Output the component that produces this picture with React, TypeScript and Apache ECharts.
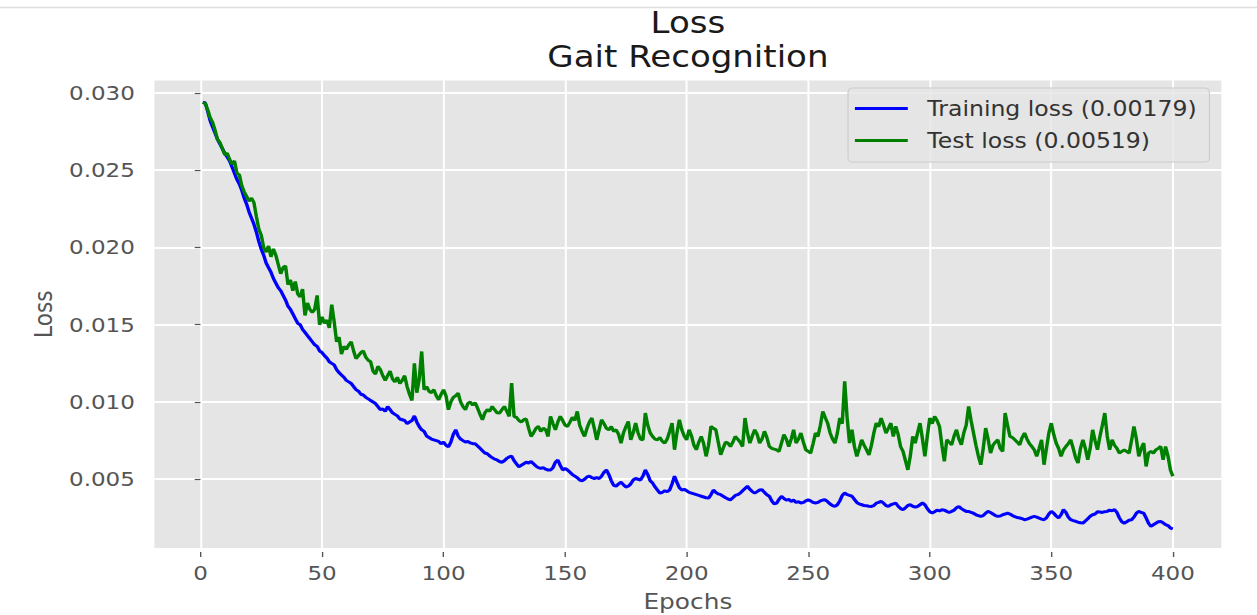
import React, { useEffect, useRef } from "react";
import * as echarts from "echarts";

// Training loss per epoch (epochs 1..400)
const trainingLoss: number[] = [
  0.02940, 0.02935, 0.02880, 0.02820, 0.02780, 0.02740, 0.02700, 0.02670, 0.02640, 0.02610,
  0.02585, 0.02560, 0.02520, 0.02480, 0.02440, 0.02410, 0.02370, 0.02320, 0.02280, 0.02230,
  0.02190, 0.02150, 0.02100, 0.02040, 0.01990, 0.01950, 0.01900, 0.01870, 0.01840, 0.01800,
  0.01770, 0.01740, 0.01720, 0.01690, 0.01660, 0.01620, 0.01600, 0.01570, 0.01540, 0.01510,
  0.01500, 0.01470, 0.01450, 0.01430, 0.01410, 0.01390, 0.01370, 0.01360, 0.01330, 0.01320,
  0.01300, 0.01285, 0.01260, 0.01250, 0.01240, 0.01210, 0.01190, 0.01175, 0.01160, 0.01140,
  0.01130, 0.01120, 0.01100, 0.01080, 0.01070, 0.01050, 0.01045, 0.01030, 0.01020, 0.01010,
  0.01000, 0.00990, 0.00970, 0.00950, 0.00955, 0.00940, 0.00970, 0.00950, 0.00930, 0.00920,
  0.00910, 0.00890, 0.00885, 0.00880, 0.00860, 0.00870, 0.00880, 0.00910, 0.00870, 0.00840,
  0.00820, 0.00810, 0.00780, 0.00770, 0.00760, 0.00755, 0.00750, 0.00745, 0.00730, 0.00740,
  0.00720, 0.00710, 0.00740, 0.00790, 0.00820, 0.00780, 0.00760, 0.00750, 0.00740, 0.00745,
  0.00735, 0.00730, 0.00730, 0.00715, 0.00700, 0.00685, 0.00670, 0.00665, 0.00650, 0.00640,
  0.00630, 0.00625, 0.00615, 0.00610, 0.00620, 0.00635, 0.00645, 0.00650, 0.00620, 0.00600,
  0.00580, 0.00590, 0.00600, 0.00610, 0.00605, 0.00615, 0.00600, 0.00585, 0.00575, 0.00570,
  0.00575, 0.00565, 0.00560, 0.00560, 0.00575, 0.00610, 0.00625, 0.00590, 0.00560, 0.00570,
  0.00560, 0.00545, 0.00530, 0.00520, 0.00510, 0.00495, 0.00490, 0.00500, 0.00515, 0.00520,
  0.00510, 0.00505, 0.00510, 0.00505, 0.00520, 0.00545, 0.00560, 0.00530, 0.00490, 0.00460,
  0.00455, 0.00470, 0.00480, 0.00465, 0.00450, 0.00455, 0.00470, 0.00495, 0.00505, 0.00500,
  0.00495, 0.00520, 0.00560, 0.00530, 0.00490, 0.00475, 0.00450, 0.00430, 0.00410, 0.00415,
  0.00425, 0.00420, 0.00430, 0.00470, 0.00520, 0.00480, 0.00445, 0.00430, 0.00435, 0.00425,
  0.00415, 0.00410, 0.00405, 0.00400, 0.00395, 0.00390, 0.00385, 0.00380, 0.00378, 0.00400,
  0.00430, 0.00415, 0.00405, 0.00400, 0.00390, 0.00380, 0.00372, 0.00367, 0.00380, 0.00395,
  0.00400, 0.00410, 0.00425, 0.00440, 0.00455, 0.00435, 0.00420, 0.00410, 0.00420, 0.00430,
  0.00432, 0.00415, 0.00400, 0.00390, 0.00360, 0.00340, 0.00345, 0.00370, 0.00390, 0.00375,
  0.00365, 0.00370, 0.00357, 0.00365, 0.00350, 0.00355, 0.00346, 0.00350, 0.00360, 0.00367,
  0.00360, 0.00350, 0.00346, 0.00350, 0.00360, 0.00365, 0.00367, 0.00355, 0.00340, 0.00330,
  0.00324, 0.00335, 0.00360, 0.00395, 0.00411, 0.00400, 0.00395, 0.00390, 0.00370, 0.00350,
  0.00340, 0.00335, 0.00330, 0.00328, 0.00325, 0.00324, 0.00330, 0.00345, 0.00350, 0.00357,
  0.00345, 0.00330, 0.00324, 0.00335, 0.00340, 0.00346, 0.00325, 0.00310, 0.00303, 0.00315,
  0.00330, 0.00335, 0.00325, 0.00320, 0.00324, 0.00335, 0.00346, 0.00335, 0.00310, 0.00290,
  0.00281, 0.00290, 0.00300, 0.00295, 0.00303, 0.00300, 0.00292, 0.00285, 0.00292, 0.00300,
  0.00315, 0.00324, 0.00310, 0.00300, 0.00292, 0.00292, 0.00285, 0.00280, 0.00270, 0.00265,
  0.00260, 0.00265, 0.00280, 0.00292, 0.00285, 0.00275, 0.00265, 0.00260, 0.00262, 0.00270,
  0.00275, 0.00281, 0.00275, 0.00265, 0.00258, 0.00252, 0.00249, 0.00245, 0.00238, 0.00242,
  0.00248, 0.00255, 0.00260, 0.00255, 0.00248, 0.00242, 0.00238, 0.00250, 0.00275, 0.00292,
  0.00280, 0.00262, 0.00249, 0.00270, 0.00303, 0.00285, 0.00255, 0.00238, 0.00232, 0.00228,
  0.00222, 0.00218, 0.00216, 0.00230, 0.00245, 0.00260, 0.00270, 0.00275, 0.00290, 0.00288,
  0.00285, 0.00290, 0.00292, 0.00300, 0.00296, 0.00303, 0.00285, 0.00250, 0.00225, 0.00216,
  0.00225, 0.00235, 0.00238, 0.00255, 0.00280, 0.00292, 0.00285, 0.00281, 0.00250, 0.00215,
  0.00195, 0.00205, 0.00215, 0.00225, 0.00227, 0.00218, 0.00206, 0.00200, 0.00184, 0.00179,
];

// Test loss per epoch (epochs 1..400)
const testLoss: number[] = [
  0.02940, 0.02930, 0.02890, 0.02840, 0.02810, 0.02760, 0.02700, 0.02680, 0.02640, 0.02600,
  0.02610, 0.02570, 0.02540, 0.02560, 0.02480, 0.02470, 0.02400, 0.02360, 0.02330, 0.02300,
  0.02320, 0.02290, 0.02200, 0.02120, 0.02080, 0.02000, 0.01970, 0.02010, 0.01940, 0.01990,
  0.01950, 0.01890, 0.01830, 0.01870, 0.01880, 0.01760, 0.01790, 0.01720, 0.01780, 0.01700,
  0.01680, 0.01730, 0.01560, 0.01640, 0.01600, 0.01580, 0.01600, 0.01690, 0.01500, 0.01550,
  0.01510, 0.01530, 0.01480, 0.01630, 0.01520, 0.01390, 0.01420, 0.01310, 0.01360, 0.01340,
  0.01370, 0.01390, 0.01330, 0.01280, 0.01300, 0.01320, 0.01330, 0.01290, 0.01270, 0.01260,
  0.01200, 0.01180, 0.01230, 0.01210, 0.01170, 0.01140, 0.01170, 0.01200, 0.01150, 0.01130,
  0.01160, 0.01120, 0.01140, 0.01170, 0.01100, 0.01050, 0.01010, 0.01250, 0.01060, 0.01150,
  0.01327, 0.01080, 0.01100, 0.01070, 0.01060, 0.01080, 0.01040, 0.01014, 0.01050, 0.01079,
  0.01040, 0.00950, 0.01000, 0.01030, 0.01040, 0.01057, 0.01000, 0.00970, 0.00950, 0.00990,
  0.01000, 0.00980, 0.00995, 0.00960, 0.00920, 0.00885, 0.00930, 0.00950, 0.00940, 0.00971,
  0.00950, 0.00930, 0.00928, 0.00950, 0.00971, 0.00940, 0.00907, 0.01122, 0.00907, 0.00900,
  0.00880, 0.00870, 0.00885, 0.00890, 0.00830, 0.00777, 0.00800, 0.00830, 0.00842, 0.00810,
  0.00830, 0.00820, 0.00777, 0.00907, 0.00860, 0.00820, 0.00870, 0.00907, 0.00880, 0.00850,
  0.00842, 0.00870, 0.00900, 0.00880, 0.00939, 0.00850, 0.00810, 0.00777, 0.00830, 0.00870,
  0.00896, 0.00830, 0.00755, 0.00820, 0.00885, 0.00860, 0.00830, 0.00820, 0.00840, 0.00810,
  0.00820, 0.00790, 0.00734, 0.00800, 0.00840, 0.00874, 0.00755, 0.00800, 0.00863, 0.00800,
  0.00760, 0.00755, 0.00928, 0.00850, 0.00800, 0.00777, 0.00760, 0.00755, 0.00770, 0.00745,
  0.00734, 0.00760, 0.00810, 0.00863, 0.00691, 0.00800, 0.00885, 0.00820, 0.00780, 0.00755,
  0.00820, 0.00780, 0.00720, 0.00691, 0.00740, 0.00777, 0.00730, 0.00648, 0.00720, 0.00842,
  0.00830, 0.00820, 0.00740, 0.00658, 0.00700, 0.00740, 0.00734, 0.00712, 0.00740, 0.00777,
  0.00760, 0.00740, 0.00712, 0.00896, 0.00800, 0.00734, 0.00780, 0.00820, 0.00790, 0.00734,
  0.00760, 0.00810, 0.00770, 0.00712, 0.00700, 0.00695, 0.00690, 0.00680, 0.00734, 0.00788,
  0.00760, 0.00712, 0.00760, 0.00820, 0.00734, 0.00760, 0.00799, 0.00740, 0.00691, 0.00680,
  0.00669, 0.00730, 0.00799, 0.00777, 0.00850, 0.00939, 0.00900, 0.00863, 0.00800, 0.00760,
  0.00734, 0.00800, 0.00896, 0.00860, 0.01133, 0.00900, 0.00734, 0.00820, 0.00712, 0.00648,
  0.00700, 0.00755, 0.00720, 0.00690, 0.00658, 0.00720, 0.00800, 0.00863, 0.00840, 0.00896,
  0.00850, 0.00799, 0.00830, 0.00863, 0.00777, 0.00842, 0.00790, 0.00712, 0.00680, 0.00620,
  0.00561, 0.00650, 0.00777, 0.00734, 0.00800, 0.00863, 0.00760, 0.00648, 0.00780, 0.00896,
  0.00860, 0.00907, 0.00880, 0.00842, 0.00720, 0.00616, 0.00755, 0.00740, 0.00723, 0.00780,
  0.00820, 0.00760, 0.00723, 0.00800, 0.00850, 0.00971, 0.00880, 0.00799, 0.00720, 0.00650,
  0.00594, 0.00700, 0.00831, 0.00760, 0.00669, 0.00720, 0.00740, 0.00755, 0.00700, 0.00680,
  0.00928, 0.00850, 0.00777, 0.00770, 0.00755, 0.00740, 0.00723, 0.00770, 0.00799, 0.00760,
  0.00730, 0.00712, 0.00690, 0.00648, 0.00700, 0.00755, 0.00594, 0.00700, 0.00800, 0.00863,
  0.00790, 0.00734, 0.00700, 0.00648, 0.00690, 0.00712, 0.00730, 0.00755, 0.00700, 0.00640,
  0.00605, 0.00700, 0.00755, 0.00700, 0.00626, 0.00700, 0.00820, 0.00750, 0.00691, 0.00777,
  0.00850, 0.00928, 0.00780, 0.00691, 0.00755, 0.00720, 0.00700, 0.00669, 0.00680, 0.00690,
  0.00680, 0.00669, 0.00750, 0.00842, 0.00760, 0.00648, 0.00700, 0.00734, 0.00583, 0.00669,
  0.00680, 0.00669, 0.00690, 0.00700, 0.00712, 0.00626, 0.00712, 0.00650, 0.00560, 0.00519,
];

const epochs: number[] = trainingLoss.map((_, i) => i + 1);
const xTicks: number[] = [0, 50, 100, 150, 200, 250, 300, 350, 400];
const yTicks: number[] = [0.005, 0.01, 0.015, 0.02, 0.025, 0.03];
const titleLines: string[] = ["Loss", "Gait Recognition"];
const seriesNames: string[] = ["Training loss (0.00179)", "Test loss (0.00519)"];
const seriesColors: string[] = ["#0000ff", "#008000"];
const xAxisName = "Epochs";
const yAxisName = "Loss";

// The reference is stretched horizontally; draw narrower and stretch with CSS.
const SX = 1.15;
const W = 1257 / SX;
const H = 615;

export default function App() {
  const ref = useRef<HTMLDivElement>(null);

  useEffect(() => {
    if (!ref.current) return;
    const chart = echarts.init(ref.current, null, { renderer: "svg" });
    const font = "DejaVu Sans";
    const plotLeft = 154.4 / SX;
    const plotRight = 1221.4 / SX;

    chart.setOption({
      animation: false,
      textStyle: { fontFamily: font },
      title: {
        text: titleLines.join("\n"),
        left: (plotLeft + plotRight) / 2,
        top: 6,
        textAlign: "center",
        padding: 0,
        textStyle: {
          fontFamily: font,
          fontSize: 29.6,
          fontWeight: "normal",
          color: "#1a1a1a",
          lineHeight: 34,
        },
      },
      graphic: [
        {
          type: "line",
          shape: { x1: 0, y1: 7.5, x2: W, y2: 7.5 },
          style: { stroke: "#dddddd", lineWidth: 1.5 },
          silent: true,
        },
      ],
      legend: {
        orient: "vertical",
        left: 737.4,
        top: 88,
        padding: [10, 11, 11, 6],
        itemGap: 11,
        itemWidth: 46,
        itemHeight: 3,
        icon: "rect",
        backgroundColor: "rgba(229,229,229,0.8)",
        borderColor: "#cccccc",
        borderWidth: 1,
        borderRadius: 4,
        data: seriesNames,
        textStyle: {
          fontFamily: font,
          fontSize: 20.5,
          color: "#333333",
          lineHeight: 21,
          padding: [0, 0, 0, 12],
        },
      },
      grid: {
        left: plotLeft,
        right: W - plotRight,
        top: 80.6,
        bottom: H - 548,
        show: true,
        backgroundColor: "#E5E5E5",
        borderWidth: 0,
        containLabel: false,
        outerBoundsMode: "none",
      },
      xAxis: {
        type: "value",
        min: -18.95,
        max: 419.95,
        offset: 4,
        axisLine: { show: false },
        axisTick: {
          show: true,
          length: 5,
          customValues: xTicks,
          lineStyle: { color: "#555555", width: 1.2 },
        },
        axisLabel: {
          customValues: xTicks,
          margin: 11,
          fontSize: 20,
          color: "#555555",
          fontFamily: font,
        },
        splitLine: { show: true, lineStyle: { color: "#ffffff", width: 1.7 } },
        name: xAxisName,
        nameLocation: "middle",
        nameGap: 38,
        nameTextStyle: { fontSize: 21.6, color: "#555555", fontFamily: font },
      },
      yAxis: {
        type: "value",
        min: 0.00055,
        max: 0.0308,
        offset: 7,
        axisLine: { show: false },
        axisTick: {
          show: true,
          length: 5,
          customValues: yTicks,
          lineStyle: { color: "#555555", width: 1.2 },
        },
        axisLabel: {
          customValues: yTicks,
          margin: 10,
          fontSize: 20,
          color: "#555555",
          fontFamily: font,
          formatter: (v: number) => v.toFixed(3),
        },
        splitLine: { show: true, lineStyle: { color: "#ffffff", width: 2 } },
        name: yAxisName,
        nameLocation: "middle",
        nameGap: 79,
        nameTextStyle: { fontSize: 21.6, color: "#555555", fontFamily: font },
      },
      series: [
        {
          type: "line",
          name: seriesNames[0],
          data: epochs.map((e, i) => [e, trainingLoss[i]]),
          symbol: "none",
          showSymbol: false,
          lineStyle: { color: seriesColors[0], width: 3 },
          itemStyle: { color: seriesColors[0] },
        },
        {
          type: "line",
          name: seriesNames[1],
          data: epochs.map((e, i) => [e, testLoss[i]]),
          symbol: "none",
          showSymbol: false,
          lineStyle: { color: seriesColors[1], width: 3 },
          itemStyle: { color: seriesColors[1] },
        },
      ],
    });

    return () => chart.dispose();
  }, []);

  return (
    <div
      ref={ref}
      style={{
        position: "absolute",
        left: 0,
        top: 0,
        width: W,
        height: H,
        transform: `scaleX(${SX})`,
        transformOrigin: "0 0",
      }}
    />
  );
}
